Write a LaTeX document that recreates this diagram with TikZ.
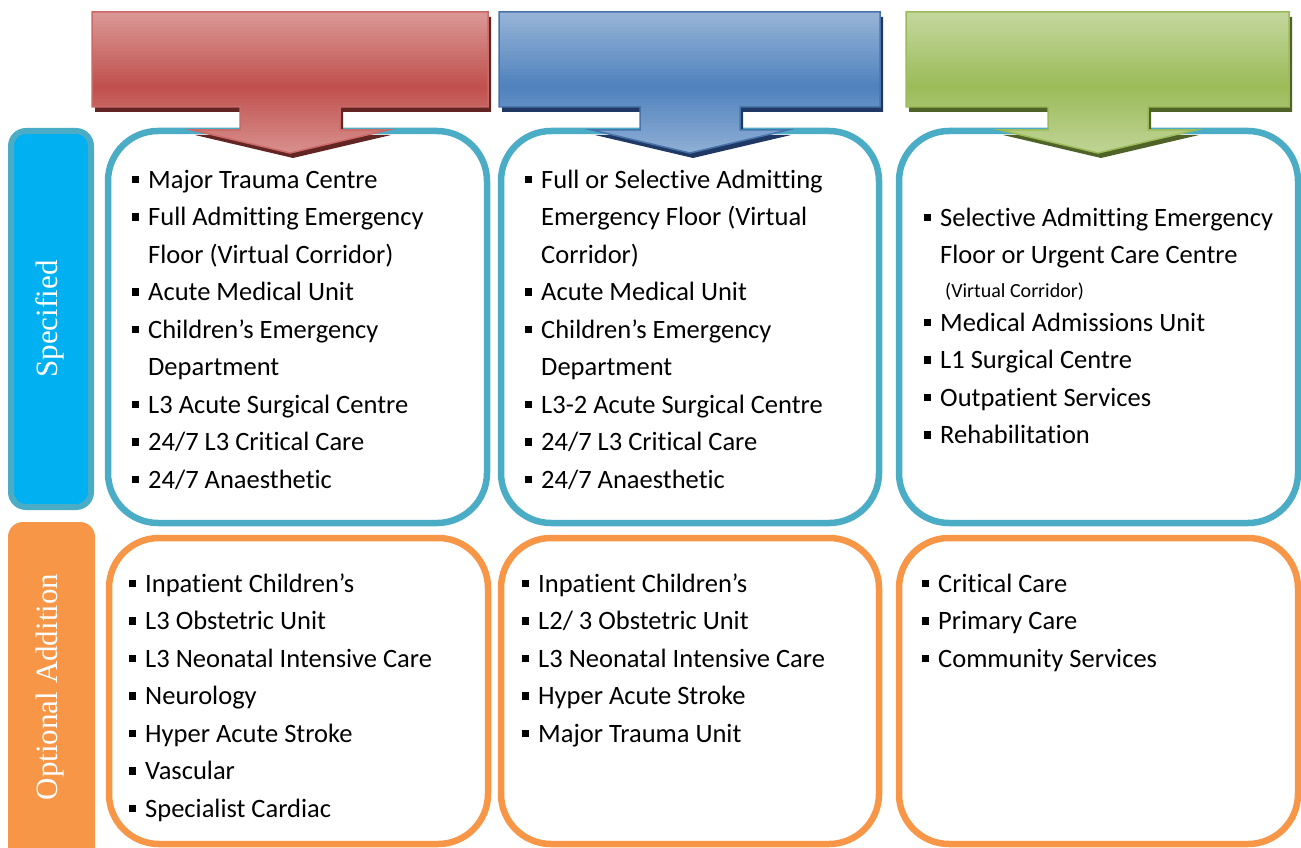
\documentclass[tikz,border=0pt]{standalone}
\usepackage{fontspec}
\setmainfont{Carlito}[RawFeature={-liga;-clig;-dlig;-calt}]
\newfontfamily\labelfont{Liberation Serif}
\definecolor{boxblue}{HTML}{4BACC6}
\definecolor{boxorange}{HTML}{F79646}
\definecolor{sidecyan}{HTML}{00B0F0}
\definecolor{redbase}{HTML}{C0504D}
\definecolor{redlight}{HTML}{DA9694}
\definecolor{redshadow}{HTML}{632523}
\definecolor{blubase}{HTML}{4F81BD}
\definecolor{blulight}{HTML}{95B3D7}
\definecolor{blushadow}{HTML}{203864}
\definecolor{grnbase}{HTML}{9BBB59}
\definecolor{grnlight}{HTML}{C3D69B}
\definecolor{grnshadow}{HTML}{4F6228}
\newcommand\mybul{\llap{\rule[5pt]{7.5pt}{7.5pt}\hspace{9pt}}}
\newcommand\arrowpath[3]{(#2,12) -- (#3,12) -- (#3,107) -- (#1+50,107) -- (#1+50,130) -- (#1+98,130) -- (#1,153) -- (#1-98,130) -- (#1-50,130) -- (#1-50,107) -- (#2,107) -- cycle}
% #1 centre x, #2 left, #3 right, #4 base colour, #5 light colour, #6 shadow, #7 border
\newcommand\gradarrow[7]{%
  \fill[#6, xshift=3pt, yshift=-5pt] \arrowpath{#1}{#2}{#3};
  \begin{scope}
    \clip \arrowpath{#1}{#2}{#3};
    \foreach \i in {0,...,47} {
      \pgfmathsetmacro\pc{max(0,100-abs(\i*3+1.5-75)/72*100)}
      \fill[#4!\pc!#5] (#2-2,12+3*\i) rectangle (#3+2,15.6+3*\i);
    }
  \end{scope}
  \draw[#7, line width=1.5pt, line join=miter] \arrowpath{#1}{#2}{#3};
}
\tikzset{
  specbox/.style={draw=boxblue, line width=6.5pt, rounded corners=50pt, fill=white},
  optbox/.style={draw=boxorange, line width=6.5pt, rounded corners=50pt, fill=white},
  itm/.style={anchor=base west, inner sep=0pt, font=\fontsize{26.5}{30}\selectfont},
  smallitm/.style={anchor=base west, inner sep=0pt, font=\fontsize{20}{24}\selectfont},
  sidelabel/.style={text=white, rotate=90, font=\labelfont\fontsize{31}{36}\selectfont, inner sep=0pt},
}
\begin{document}
\begin{tikzpicture}[x=1pt,y=-1pt]
\useasboundingbox (0,0) rectangle (1301,848);
\clip (0,0) rectangle (1301,848);
% side labels
\draw[boxblue, line width=6pt, fill=sidecyan, rounded corners=15pt] (11,131) rectangle (91,507);
\node[sidelabel] (spec) at (50,319) {Specified};
\fill[boxorange, rounded corners=15pt] (8,522) rectangle (95,880);
\node[sidelabel] (opt) at (50,687) {Optional Addition};
% specified boxes
\draw[specbox] (108,131) rectangle (487,523);
\draw[specbox] (501,131) rectangle (879,523);
\draw[specbox] (899,131) rectangle (1298,523);
% optional boxes
\draw[optbox] (109,538) rectangle (488,844);
\draw[optbox] (501,538) rectangle (879,844);
\draw[optbox] (899,538) rectangle (1298,844);
% arrows
\gradarrow{290}{92}{488}{redbase}{redlight}{redshadow}{redbase!85!white}
\gradarrow{690}{499}{880}{blubase}{blulight}{blushadow}{blubase!90!black}
\gradarrow{1098}{906}{1289}{grnbase}{grnlight}{grnshadow}{grnbase}
% column 1 top
\node[itm] (a1) at (148,188) {\mybul Major Trauma Centre};
\node[itm] (a2) at (148,225.5) {\mybul Full Admitting Emergency};
\node[itm] (a3) at (148,263) {Floor (Virtual Corridor)};
\node[itm] (a4) at (148,300.5) {\mybul Acute Medical Unit};
\node[itm] (a5) at (148,338) {\mybul Children’s Emergency};
\node[itm] (a6) at (148,375.5) {Department};
\node[itm] (a7) at (148,413) {\mybul L3 Acute Surgical Centre};
\node[itm] (a8) at (148,450.5) {\mybul 24/7 L3 Critical Care};
\node[itm] (a9) at (148,488) {\mybul 24/7 Anaesthetic};
% column 2 top
\node[itm] (b1) at (541,188) {\mybul Full or Selective Admitting};
\node[itm] (b2) at (541,225.5) {Emergency Floor (Virtual};
\node[itm] (b3) at (541,263) {Corridor)};
\node[itm] (b4) at (541,300.5) {\mybul Acute Medical Unit};
\node[itm] (b5) at (541,338) {\mybul Children’s Emergency};
\node[itm] (b6) at (541,375.5) {Department};
\node[itm] (b7) at (541,413) {\mybul L3-2 Acute Surgical Centre};
\node[itm] (b8) at (541,450.5) {\mybul 24/7 L3 Critical Care};
\node[itm] (b9) at (541,488) {\mybul 24/7 Anaesthetic};
% column 3 top
\node[itm] (c1) at (940,226) {\mybul Selective Admitting Emergency};
\node[itm] (c2) at (940,263) {Floor or Urgent Care Centre};
\node[smallitm] (c3) at (945,297) {(Virtual Corridor)};
\node[itm] (c4) at (940,331) {\mybul Medical Admissions Unit};
\node[itm] (c5) at (940,368.5) {\mybul L1 Surgical Centre};
\node[itm] (c6) at (940,406) {\mybul Outpatient Services};
\node[itm] (c7) at (940,443.5) {\mybul Rehabilitation};
% column 1 bottom
\node[itm] (d1) at (145,592) {\mybul Inpatient Children’s};
\node[itm] (d2) at (145,629.5) {\mybul L3 Obstetric Unit};
\node[itm] (d3) at (145,667) {\mybul L3 Neonatal Intensive Care};
\node[itm] (d4) at (145,704.5) {\mybul Neurology};
\node[itm] (d5) at (145,742) {\mybul Hyper Acute Stroke};
\node[itm] (d6) at (145,779.5) {\mybul Vascular};
\node[itm] (d7) at (145,817) {\mybul Specialist Cardiac};
% column 2 bottom
\node[itm] (e1) at (538,592) {\mybul Inpatient Children’s};
\node[itm] (e2) at (538,629.5) {\mybul L2/ 3 Obstetric Unit};
\node[itm] (e3) at (538,667) {\mybul L3 Neonatal Intensive Care};
\node[itm] (e4) at (538,704.5) {\mybul Hyper Acute Stroke};
\node[itm] (e5) at (538,742) {\mybul Major Trauma Unit};
% column 3 bottom
\node[itm] (f1) at (938,592) {\mybul Critical Care};
\node[itm] (f2) at (938,629.5) {\mybul Primary Care};
\node[itm] (f3) at (938,667) {\mybul Community Services};
\end{tikzpicture}
\end{document}
